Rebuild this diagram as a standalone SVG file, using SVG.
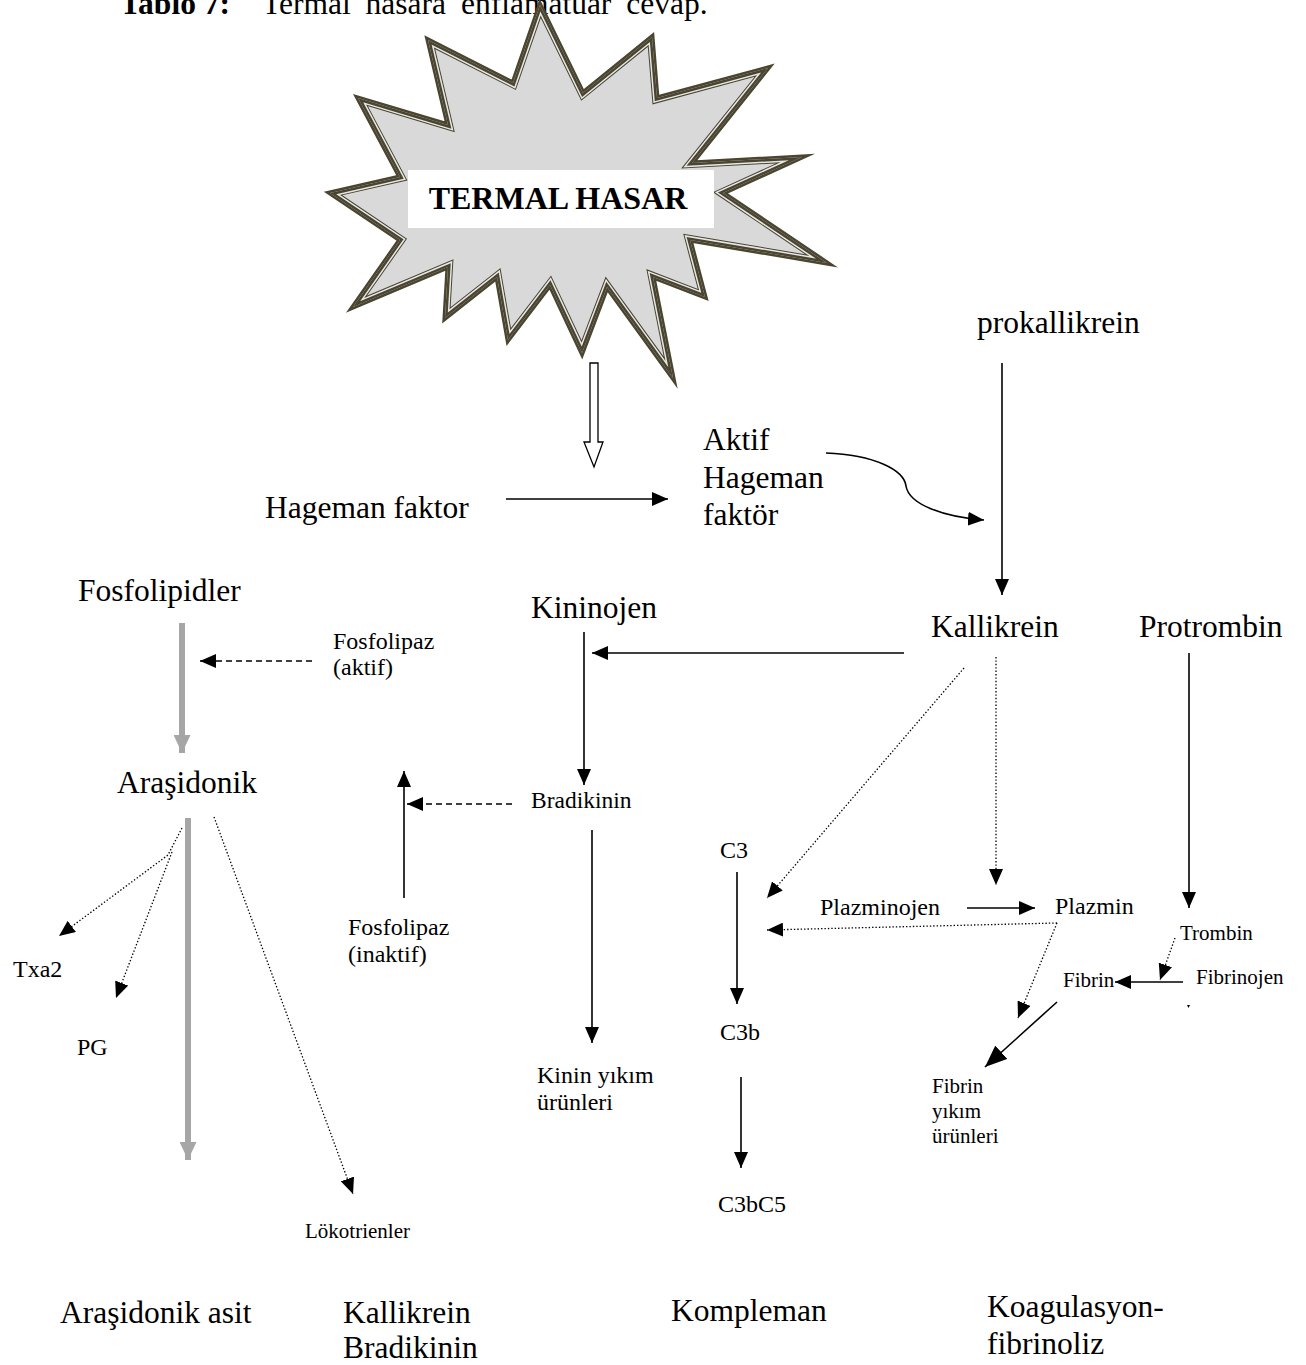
<svg xmlns="http://www.w3.org/2000/svg" width="1306" height="1365" viewBox="0 0 1306 1365">
<style>
text{font-family:"Liberation Serif","Times New Roman",serif;fill:#000}
.L{font-size:31.5px}
.M{font-size:24px}
.B{font-size:23.5px}
.S{font-size:21px}
.ln{stroke:#000;stroke-width:1.6;fill:none}
.dot{stroke:#000;stroke-width:1.3;fill:none;stroke-dasharray:1.4 2}
.dash{stroke:#000;stroke-width:1.6;fill:none;stroke-dasharray:6 4}
.gray{stroke:#a6a6a6;stroke-width:6;fill:none}
</style>
<defs>
<marker id="ah" viewBox="0 0 16 14" refX="16" refY="7" markerWidth="16" markerHeight="14" markerUnits="userSpaceOnUse" orient="auto"><path d="M0,0 L16,7 L0,14 z" fill="#000"/></marker>
<marker id="ahL" viewBox="0 0 22 18" refX="22" refY="9" markerWidth="22" markerHeight="18" markerUnits="userSpaceOnUse" orient="auto"><path d="M0,0 L22,9 L0,18 z" fill="#000"/></marker>
<marker id="gah" viewBox="0 0 18 17" refX="18" refY="8.5" markerWidth="18" markerHeight="17" markerUnits="userSpaceOnUse" orient="auto"><path d="M0,0 L18,8.5 L0,17 z" fill="#a6a6a6"/></marker>
<polygon id="starShape" points="540,5 583,93 652,37 657,98 768,68 692,163 802,157 723,193 827,263 690,240 705,297 653,277 673,378 607,287 582,353 550,285 508,340 497,277 445,318 448,267 353,307 400,240 330,193 400,177 358,98 448,125 428,40 513,83"/>
<clipPath id="starClip"><use href="#starShape"/></clipPath>
</defs>

<g id="title">
<text x="120" y="14" class="L"><tspan font-weight="bold">Tablo 7:</tspan><tspan x="262" word-spacing="7">Termal hasara enflamatuar cevap.</tspan></text>
</g>

<g id="termal-hasar">
<use href="#starShape" fill="#d9d9d9" stroke="#4a4530" stroke-width="5" stroke-linejoin="miter" stroke-miterlimit="10"/>
<g clip-path="url(#starClip)" fill="none" stroke-linejoin="miter" stroke-miterlimit="10">
<use href="#starShape" stroke="#4a4530" stroke-width="10"/>
<use href="#starShape" stroke="#e6e6e6" stroke-width="8"/>
<use href="#starShape" stroke="#4a4530" stroke-width="5"/>
</g>
<rect x="408" y="170" width="306" height="58" fill="#fff"/>
<text x="558" y="209" font-size="32" font-weight="bold" text-anchor="middle">TERMAL HASAR</text>
</g>

<g id="connectors">
<polygon points="590,363 598,363 598,442 603,442 594,467 584,442 590,442" fill="#fff" stroke="#000" stroke-width="1.3"/>
<line class="ln" x1="506" y1="499" x2="668" y2="499" marker-end="url(#ah)"/>
<path class="ln" d="M826,453 C875,455 904,470 906,486 C909,505 945,517 984,520" marker-end="url(#ah)"/>
<line class="ln" x1="1002" y1="363" x2="1002" y2="595" marker-end="url(#ah)"/>
<line class="ln" x1="904" y1="653" x2="592" y2="653" marker-end="url(#ah)"/>
<line class="ln" x1="584" y1="632" x2="584" y2="785" marker-end="url(#ah)"/>
<line class="dash" x1="512" y1="804" x2="407" y2="804" marker-end="url(#ah)"/>
<line class="ln" x1="404" y1="898" x2="404" y2="771" marker-end="url(#ah)"/>
<line class="dash" x1="312" y1="661" x2="200" y2="661" marker-end="url(#ah)"/>
<line class="gray" x1="182" y1="623" x2="182" y2="753" marker-end="url(#gah)"/>
<line class="gray" x1="188" y1="818" x2="188" y2="1160" marker-end="url(#gah)"/>
<path class="dot" d="M182,828 L168,855 L59,936" marker-end="url(#ah)"/>
<path class="dot" d="M172,852 L116,998" marker-end="url(#ah)"/>
<line class="dot" x1="214" y1="817" x2="353" y2="1194" marker-end="url(#ah)"/>
<line class="ln" x1="592" y1="830" x2="592" y2="1043" marker-end="url(#ah)"/>
<line class="dot" x1="964" y1="668" x2="767" y2="898" marker-end="url(#ah)"/>
<line class="dot" x1="996" y1="657" x2="996" y2="885" marker-end="url(#ah)"/>
<line class="ln" x1="737" y1="872" x2="737" y2="1004" marker-end="url(#ah)"/>
<line class="ln" x1="741" y1="1077" x2="741" y2="1168" marker-end="url(#ah)"/>
<line class="ln" x1="967" y1="908" x2="1035" y2="908" marker-end="url(#ah)"/>
<line class="dot" x1="1057" y1="923" x2="767" y2="930" marker-end="url(#ah)"/>
<line class="dot" x1="1057" y1="923" x2="1018" y2="1018" marker-end="url(#ah)"/>
<line class="ln" x1="1189" y1="653" x2="1189" y2="908" marker-end="url(#ah)"/>
<line class="dot" x1="1175" y1="938" x2="1160" y2="980" marker-end="url(#ah)"/>
<line class="ln" x1="1183" y1="982" x2="1115" y2="982" marker-end="url(#ah)"/>
<line class="ln" x1="1057" y1="1002" x2="985" y2="1067" stroke-width="2.5" marker-end="url(#ahL)"/>
<path d="M1187,1005 L1190,1005 L1188.5,1008 z" fill="#000"/>
</g>

<g id="n-prokallikrein"><text class="L" x="977" y="333">prokallikrein</text></g>
<g id="n-aktif-hageman"><text class="L" x="703" y="450">Aktif</text><text class="L" x="703" y="488">Hageman</text><text class="L" x="703" y="525">faktör</text></g>
<g id="n-hageman"><text class="L" x="265" y="518">Hageman faktor</text></g>
<g id="n-fosfolipidler"><text class="L" x="78" y="601">Fosfolipidler</text></g>
<g id="n-kininojen"><text class="L" x="531" y="618">Kininojen</text></g>
<g id="n-kallikrein"><text class="L" x="931" y="637">Kallikrein</text></g>
<g id="n-protrombin"><text class="L" x="1139" y="637">Protrombin</text></g>
<g id="n-fosfolipaz-aktif"><text class="M" x="333" y="649">Fosfolipaz</text><text class="M" x="333" y="675">(aktif)</text></g>
<g id="n-arasidonik"><text class="L" x="117" y="793">Araşidonik</text></g>
<g id="n-bradikinin"><text class="B" x="531" y="808">Bradikinin</text></g>
<g id="n-c3"><text class="M" x="720" y="858">C3</text></g>
<g id="n-plazminojen"><text class="M" x="820" y="915">Plazminojen</text></g>
<g id="n-plazmin"><text class="M" x="1055" y="914">Plazmin</text></g>
<g id="n-trombin"><text class="S" x="1180" y="940">Trombin</text></g>
<g id="n-fibrin"><text class="S" x="1063" y="987">Fibrin</text></g>
<g id="n-fibrinojen"><text class="S" x="1196" y="984">Fibrinojen</text></g>
<g id="n-fosfolipaz-inaktif"><text class="M" x="348" y="935">Fosfolipaz</text><text class="M" x="348" y="962">(inaktif)</text></g>
<g id="n-txa2"><text class="M" x="13" y="977">Txa2</text></g>
<g id="n-pg"><text class="M" x="77" y="1055">PG</text></g>
<g id="n-c3b"><text class="M" x="720" y="1040">C3b</text></g>
<g id="n-kinin-yikim"><text class="M" x="537" y="1083">Kinin yıkım</text><text class="M" x="537" y="1110">ürünleri</text></g>
<g id="n-fibrin-yikim"><text class="S" x="932" y="1093">Fibrin</text><text class="S" x="932" y="1118">yıkım</text><text class="S" x="932" y="1143">ürünleri</text></g>
<g id="n-c3bc5"><text class="M" x="718" y="1212">C3bC5</text></g>
<g id="n-lokotrienler"><text class="S" x="305" y="1238">Lökotrienler</text></g>

<g id="labels">
<text class="L" x="60" y="1323">Araşidonik asit</text>
<text class="L" x="343" y="1323">Kallikrein</text>
<text class="L" x="343" y="1358">Bradikinin</text>
<text class="L" x="671" y="1321">Kompleman</text>
<text class="L" x="987" y="1317">Koagulasyon-</text>
<text class="L" x="987" y="1354">fibrinoliz</text>
</g>
</svg>
